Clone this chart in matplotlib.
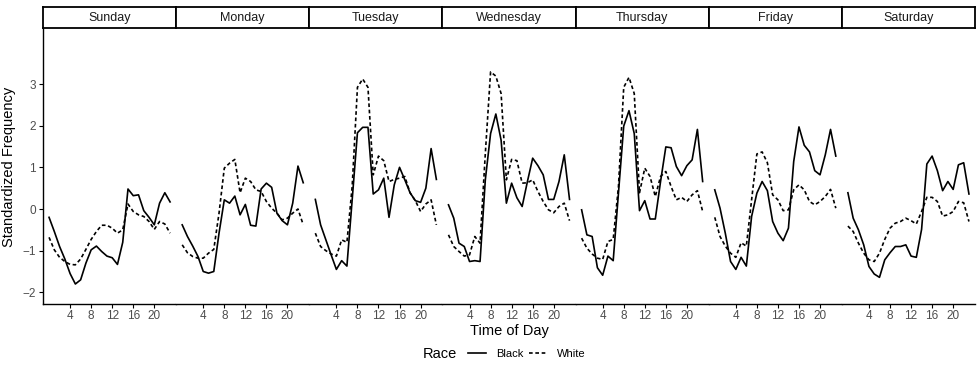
import numpy as np
import matplotlib
matplotlib.use('Agg')
import matplotlib.pyplot as plt
from matplotlib.lines import Line2D

plt.rcParams['font.family'] = ['Liberation Sans', 'DejaVu Sans']

days = ['Sunday', 'Monday', 'Tuesday', 'Wednesday', 'Thursday', 'Friday', 'Saturday']
hours = np.arange(24)

# standardized frequency by hour
black = {
    'Sunday':    [-0.2, -0.54, -0.9, -1.2, -1.55, -1.8, -1.7, -1.3, -0.98, -0.89, -1.02, -1.13,
                  -1.17, -1.33, -0.8, 0.48, 0.32, 0.34, -0.04, -0.2, -0.38, 0.14, 0.39, 0.17],
    'Monday':    [-0.38, -0.66, -0.89, -1.14, -1.5, -1.54, -1.5, -0.58, 0.22, 0.14, 0.31, -0.14,
                  0.11, -0.39, -0.41, 0.48, 0.62, 0.52, -0.1, -0.28, -0.38, 0.14, 1.03, 0.63],
    'Tuesday':   [0.23, -0.38, -0.74, -1.1, -1.45, -1.24, -1.37, 0.22, 1.83, 1.96, 1.96, 0.36,
                  0.46, 0.74, -0.2, 0.58, 1.0, 0.7, 0.39, 0.2, 0.16, 0.5, 1.45, 0.71],
    'Wednesday': [0.1, -0.22, -0.82, -0.9, -1.26, -1.24, -1.26, 0.7, 1.81, 2.28, 1.65, 0.14,
                  0.62, 0.27, 0.06, 0.66, 1.22, 1.04, 0.82, 0.23, 0.23, 0.66, 1.3, 0.23],
    'Thursday':  [-0.02, -0.62, -0.66, -1.41, -1.59, -1.13, -1.24, 0.38, 1.99, 2.36, 1.81, -0.04,
                  0.2, -0.24, -0.24, 0.66, 1.49, 1.47, 1.02, 0.8, 1.04, 1.18, 1.91, 0.66],
    'Friday':    [0.46, 0.02, -0.58, -1.26, -1.45, -1.16, -1.37, -0.18, 0.38, 0.66, 0.44, -0.3,
                  -0.58, -0.76, -0.46, 1.14, 1.97, 1.53, 1.37, 0.92, 0.82, 1.3, 1.91, 1.27],
    'Saturday':  [0.39, -0.22, -0.5, -0.86, -1.38, -1.56, -1.64, -1.22, -1.05, -0.9, -0.9, -0.86,
                  -1.13, -1.16, -0.49, 1.08, 1.27, 0.92, 0.44, 0.66, 0.47, 1.06, 1.11, 0.36],
}
white = {
    'Sunday':    [-0.68, -0.98, -1.16, -1.26, -1.33, -1.34, -1.2, -0.97, -0.73, -0.54, -0.39, -0.39,
                  -0.46, -0.58, -0.5, 0.12, -0.06, -0.14, -0.18, -0.3, -0.49, -0.3, -0.36, -0.58],
    'Monday':    [-0.86, -1.05, -1.14, -1.18, -1.18, -1.06, -0.97, -0.1, 0.98, 1.1, 1.19, 0.39,
                  0.74, 0.66, 0.46, 0.42, 0.18, 0.02, -0.1, -0.26, -0.22, -0.1, 0.0, -0.38],
    'Tuesday':   [-0.58, -0.9, -1.0, -1.08, -1.13, -0.74, -0.8, 0.54, 2.92, 3.12, 2.92, 0.82,
                  1.27, 1.16, 0.66, 0.71, 0.74, 0.78, 0.39, 0.2, -0.06, 0.12, 0.22, -0.38],
    'Wednesday': [-0.62, -0.9, -1.02, -1.13, -1.1, -0.66, -0.82, 1.33, 3.29, 3.19, 2.77, 0.7,
                  1.19, 1.16, 0.62, 0.63, 0.7, 0.42, 0.18, -0.02, -0.09, 0.06, 0.14, -0.28],
    'Thursday':  [-0.7, -0.94, -1.08, -1.18, -1.21, -0.78, -0.73, 0.54, 2.92, 3.16, 2.77, 0.39,
                  0.98, 0.78, 0.3, 0.78, 0.9, 0.54, 0.22, 0.28, 0.18, 0.34, 0.44, -0.06],
    'Friday':    [-0.2, -0.66, -0.89, -1.06, -1.16, -0.81, -0.89, 0.22, 1.32, 1.37, 1.11, 0.34,
                  0.22, -0.04, -0.02, 0.46, 0.58, 0.46, 0.18, 0.1, 0.18, 0.3, 0.47, 0.02],
    'Saturday':  [-0.41, -0.54, -0.82, -1.06, -1.22, -1.26, -1.06, -0.73, -0.46, -0.34, -0.3, -0.22,
                  -0.28, -0.36, -0.06, 0.28, 0.28, 0.18, -0.17, -0.14, -0.06, 0.18, 0.15, -0.3],
}

W, H = 977, 370
fig = plt.figure(figsize=(W/100, H/100), dpi=100)

left_px = 43
right_px = 975
top_px = 29
bot_px = 304
pw = (right_px - left_px) / 7.0
grey = '#4D4D4D'
dash = (0, (2.2, 1.6))

for i, d in enumerate(days):
    x0 = (left_px + i*pw) / W
    ax = fig.add_axes([x0, 1 - bot_px/H, pw/W, (bot_px - top_px)/H])
    ax.plot(hours, black[d], color='black', lw=1.2, ls='-')
    ax.plot(hours, white[d], color='black', lw=1.2, ls=dash)
    ax.set_xlim(-1.15, 24.15)
    ax.set_ylim(-2.28, 4.32)
    ax.set_xticks([4, 8, 12, 16, 20])
    ax.tick_params(axis='x', labelsize=8.5, colors='black', labelcolor=grey, length=3, width=0.8, pad=1.5)
    for s in ['top', 'right']:
        ax.spines[s].set_visible(False)
    ax.spines['bottom'].set_linewidth(1.0)
    if i == 0:
        ax.set_yticks([-2, -1, 0, 1, 2, 3])
        ax.tick_params(axis='y', labelsize=8.5, colors='black', labelcolor=grey, length=3, width=0.8, pad=2)
        ax.spines['left'].set_linewidth(1.0)
        ax.set_ylabel('Standardized Frequency', fontsize=10.5, labelpad=5)
    else:
        ax.spines['left'].set_visible(False)
        ax.set_yticks([])

    # facet strip
    sx = fig.add_axes([x0, 1 - 28/H, pw/W, 21/H])
    sx.set_xticks([])
    sx.set_yticks([])
    for s in sx.spines.values():
        s.set_linewidth(1.3)
    sx.text(0.5, 0.5, d, ha='center', va='center', fontsize=9, color='#1A1A1A',
            transform=sx.transAxes)

fig.text(509/W, 1 - 331/H, 'Time of Day', ha='center', va='center', fontsize=10.5)

# legend
fig.text(423/W, 1 - 354/H, 'Race', ha='left', va='center', fontsize=10.5)
handles = [Line2D([], [], color='black', lw=1.2, ls='-'),
           Line2D([], [], color='black', lw=1.2, ls=dash)]
fig.legend(handles, ['Black', 'White'], loc='center left', bbox_to_anchor=(468/W, 1 - 354/H),
           ncol=2, frameon=False, fontsize=8, handlelength=1.6, handletextpad=0.9,
           columnspacing=0.5, borderaxespad=0, borderpad=0)

fig.savefig('out.png', dpi=100)
